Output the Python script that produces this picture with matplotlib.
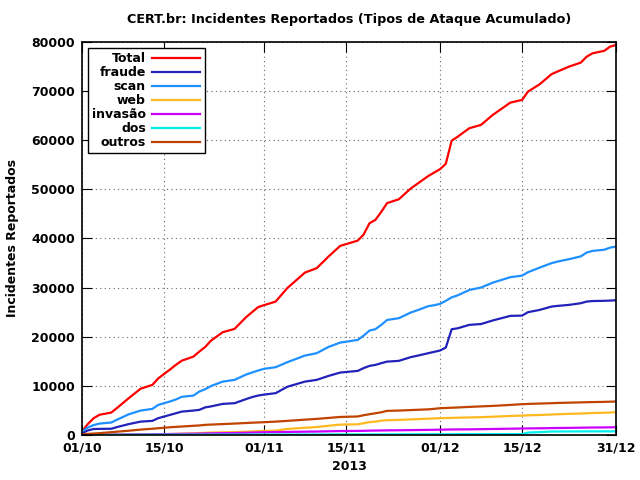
import matplotlib
matplotlib.use("Agg")
import matplotlib.pyplot as plt
import pandas as pd

# dias (dd/mm de 2013)
datas = ['01/10', '02/10', '03/10', '04/10', '06/10', '07/10', '09/10', '11/10', '13/10', '14/10',
         '16/10', '17/10', '18/10', '20/10', '21/10', '22/10', '23/10', '25/10', '27/10', '29/10',
         '30/10', '31/10', '01/11', '03/11', '05/11', '08/11', '10/11', '12/11', '14/11', '17/11',
         '18/11', '19/11', '20/11', '21/11', '22/11', '24/11', '26/11', '27/11', '29/11', '30/11',
         '01/12', '02/12', '03/12', '04/12', '06/12', '08/12', '10/12', '13/12', '15/12', '16/12',
         '18/12', '20/12', '21/12', '23/12', '25/12', '26/12', '27/12', '29/12', '30/12', '31/12']

total = [700, 2200, 3400, 4100, 4540, 5500, 7500, 9400, 10180, 11500,
         13300, 14250, 15100, 15940, 16960, 17900, 19200, 20910, 21580, 24000,
         25000, 26000, 26400, 27140, 29900, 33050, 33940, 36300, 38480, 39560,
         40800, 43100, 43770, 45400, 47200, 47980, 50150, 51000, 52700, 53400,
         54090, 55200, 59900, 60700, 62440, 63120, 65150, 67660, 68210, 69900,
         71400, 73440, 73970, 74990, 75800, 77010, 77700, 78200, 79060, 79400]

fraude = [340, 900, 1200, 1220, 1250, 1600, 2200, 2700, 2850, 3400,
          4070, 4400, 4740, 4950, 5090, 5600, 5800, 6310, 6450, 7300,
          7700, 8000, 8200, 8490, 9800, 10850, 11200, 12000, 12690, 13030,
          13600, 14050, 14250, 14600, 14920, 15070, 15820, 16080, 16630, 16900,
          17170, 17780, 21510, 21700, 22400, 22570, 23300, 24230, 24290, 24980,
          25450, 26120, 26260, 26470, 26810, 27150, 27250, 27300, 27350, 27400]

scan = [680, 1500, 2000, 2300, 2520, 3100, 4200, 4950, 5290, 6100,
        6800, 7200, 7750, 8000, 8820, 9300, 9950, 10850, 11200, 12300,
        12700, 13100, 13440, 13780, 14800, 16150, 16630, 17900, 18790, 19340,
        20200, 21240, 21520, 22400, 23400, 23760, 24900, 25310, 26200, 26400,
        26670, 27300, 28000, 28400, 29500, 30000, 31000, 32110, 32430, 33120,
        34060, 34960, 35280, 35770, 36350, 37120, 37460, 37700, 38130, 38340]

web = [20, 40, 60, 70, 80, 90, 100, 110, 120, 140,
       180, 220, 260, 300, 350, 420, 470, 520, 560, 640,
       700, 760, 810, 850, 1200, 1450, 1600, 1850, 2100, 2150,
       2370, 2600, 2700, 2900, 2990, 3050, 3150, 3200, 3300, 3350,
       3400, 3430, 3460, 3500, 3550, 3600, 3700, 3850, 3930, 3980,
       4050, 4150, 4200, 4280, 4350, 4400, 4450, 4500, 4560, 4620]

invasao = [10, 20, 30, 40, 50, 60, 80, 100, 120, 140,
           170, 190, 210, 240, 260, 290, 310, 350, 380, 430,
           460, 500, 540, 560, 600, 650, 680, 730, 780, 810,
           830, 860, 880, 900, 920, 940, 970, 990, 1020, 1040,
           1060, 1080, 1100, 1110, 1130, 1160, 1200, 1260, 1300, 1320,
           1340, 1380, 1400, 1430, 1460, 1480, 1500, 1520, 1540, 1560]

dos = [0, 5, 10, 12, 15, 18, 22, 26, 30, 32,
       36, 38, 40, 44, 46, 48, 50, 54, 58, 62,
       64, 66, 68, 72, 76, 80, 84, 88, 92, 96,
       98, 100, 102, 104, 106, 110, 114, 116, 120, 122,
       124, 126, 128, 130, 134, 138, 142, 148, 150, 470,
       560, 680, 690, 700, 705, 710, 712, 715, 718, 720]

outros = [100, 200, 280, 350, 550, 650, 850, 1080, 1250, 1350,
          1550, 1630, 1700, 1850, 1920, 2040, 2100, 2200, 2300, 2420,
          2480, 2530, 2580, 2700, 2850, 3100, 3260, 3450, 3650, 3750,
          4000, 4210, 4400, 4600, 4890, 4950, 5050, 5100, 5200, 5300,
          5430, 5480, 5530, 5580, 5700, 5800, 5900, 6100, 6250, 6300,
          6380, 6450, 6500, 6560, 6620, 6650, 6680, 6720, 6760, 6790]

rotulos_x = ['01/10', '15/10', '01/11', '15/11', '01/12', '15/12', '31/12']

series = [('Total', total, '#ff0000'),
          ('fraude', fraude, '#2222bb'),
          ('scan', scan, '#1e90ff'),
          ('web', web, '#ffb920'),
          ('invasão', invasao, '#cc00ff'),
          ('dos', dos, '#00eeee'),
          ('outros', outros, '#c04400')]

x = pd.to_datetime([d + '/2013' for d in datas], format='%d/%m/%Y')
ticks_x = pd.to_datetime([d + '/2013' for d in rotulos_x], format='%d/%m/%Y')

plt.rcParams['font.family'] = 'DejaVu Sans'
plt.rcParams['font.weight'] = 'bold'

fig = plt.figure(figsize=(6.4, 4.8), dpi=100)
ax = fig.add_axes([0.128, 0.094, 0.8345, 0.8185])

for nome, valores, cor in series:
    ax.plot(x, valores, color=cor, lw=1.6, label=nome)

ax.set_xlim(ticks_x[0], ticks_x[-1])
ax.set_ylim(0, 80000)
ax.set_xticks(ticks_x)
ax.set_xticklabels(rotulos_x)
ax.set_yticks(range(0, 80001, 10000))
ax.tick_params(direction='in', length=7, top=True, right=True, labelsize=9, pad=5)
for t in ax.get_xticklabels() + ax.get_yticklabels():
    t.set_fontweight('bold')

ax.grid(True, linestyle=(0, (1, 3)), color='#666666', lw=0.8)
for s in ax.spines.values():
    s.set_linewidth(1.2)

ax.set_title('CERT.br: Incidentes Reportados (Tipos de Ataque Acumulado)',
             fontsize=9.2, fontweight='bold', pad=14)
ax.set_xlabel('2013', fontsize=9, fontweight='bold')
ax.set_ylabel('Incidentes Reportados', fontsize=9, fontweight='bold', labelpad=9)

leg = ax.legend(loc='upper left', markerfirst=False, fancybox=False, framealpha=1,
                edgecolor='black', handlelength=3.9, handletextpad=0.45, borderpad=0.35,
                labelspacing=0.08, prop={'size': 9, 'weight': 'bold'}, borderaxespad=0.45)
leg.get_frame().set_linewidth(1.0)

# alinhar os textos da legenda a direita
for coluna in leg._legend_handle_box.get_children():
    coluna.align = 'right'

fig.savefig('out.png', dpi=100)
